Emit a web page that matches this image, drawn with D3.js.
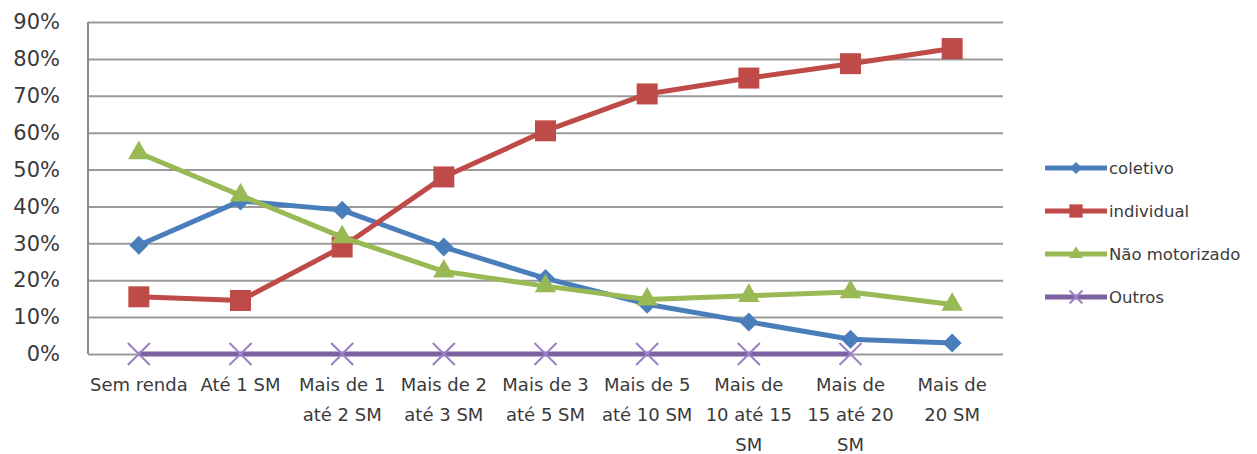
<!DOCTYPE html>
<html>
<head>
<meta charset="utf-8">
<script src="https://cdn.jsdelivr.net/npm/d3@7"></script>
<style>
    body { margin: 0; background: #fff; }
    svg { display: block; }
    svg text { font-family: "DejaVu Sans", sans-serif; }
</style>
</head>
<body>
<div id="chart"></div>
<script>
// Categories (income bands), tick labels split into lines
const categories = [
    ["Sem renda"],
    ["Até 1 SM"],
    ["Mais de 1", "até 2 SM"],
    ["Mais de 2", "até 3 SM"],
    ["Mais de 3", "até 5 SM"],
    ["Mais de 5", "até 10 SM"],
    ["Mais de", "10 até 15", "SM"],
    ["Mais de", "15 até 20", "SM"],
    ["Mais de", "20 SM"]
];

// Series values (share, 0-1)
const coletivo = [0.295, 0.415, 0.39, 0.29, 0.205, 0.135, 0.087, 0.04, 0.03];
const individual = [0.155, 0.145, 0.29, 0.48, 0.605, 0.705, 0.748, 0.787, 0.828];
const naoMotorizado = [0.545, 0.43, 0.317, 0.224, 0.184, 0.148, 0.158, 0.168, 0.134];
const outros = [0, 0, 0, 0, 0, 0, 0, 0, null];

const yTicks = [0, 0.1, 0.2, 0.3, 0.4, 0.5, 0.6, 0.7, 0.8, 0.9];

const width = 1257;
const height = 454;
const margin = { top: 22, right: 254, bottom: 100, left: 88 };

const series = [
    { name: "coletivo", values: coletivo, color: "#4a7ebb", marker: "diamond" },
    { name: "individual", values: individual, color: "#be4b48", marker: "square" },
    { name: "Não motorizado", values: naoMotorizado, color: "#98b954", marker: "triangle" },
    { name: "Outros", values: outros, color: "#7d60a0", marker: "x" }
];

const svg = d3.select("#chart")
    .append("svg")
    .attr("width", width)
    .attr("height", height);

const x = d3.scaleBand()
    .domain(d3.range(categories.length))
    .range([margin.left, width - margin.right])
    .padding(0);

const y = d3.scaleLinear()
    .domain([0, 0.9])
    .range([height - margin.bottom, margin.top]);

// Gridlines + y labels
const yAxis = svg.append("g")
    .attr("transform", `translate(${margin.left},0)`)
    .call(d3.axisLeft(y)
        .tickValues(yTicks)
        .tickFormat(d3.format(".0%"))
        .tickSize(-(width - margin.right - margin.left))
        .tickPadding(28))
    .attr("font-family", null);
yAxis.select(".domain").remove();
yAxis.selectAll(".tick line")
    .attr("stroke", "#9a9a9a")
    .attr("stroke-width", 2);
yAxis.selectAll(".tick text")
    .attr("fill", "#3a3a3a")
    .style("font-size", "21px");

// Left axis line
svg.append("line")
    .attr("x1", margin.left).attr("x2", margin.left)
    .attr("y1", y(0.9)).attr("y2", y(0))
    .attr("stroke", "#8a8a8a")
    .attr("stroke-width", 2);

// X labels
const xAxis = svg.append("g")
    .attr("transform", `translate(0,${y(0)})`)
    .call(d3.axisBottom(x).tickSize(0).tickFormat(""))
    .attr("font-family", null);
xAxis.select(".domain").remove();
xAxis.selectAll(".tick").each(function(d) {
    const t = d3.select(this).append("text")
        .attr("fill", "#3a3a3a")
        .attr("text-anchor", "middle")
        .style("font-size", "18px");
    categories[d].forEach((line, i) => {
        t.append("tspan")
            .attr("x", 0)
            .attr("y", 37 + i * 30)
            .text(line);
    });
});

function markerPath(type, big) {
    const k = big ? 1 : 0.4;
    if (type === "diamond") return d3.symbol(d3.symbolSquare, 180 * k)();
    if (type === "square") return d3.symbol(d3.symbolSquare, 440 * k)();
    if (type === "triangle") return d3.symbol(d3.symbolTriangle, 200 * k)();
    return d3.symbol(d3.symbolTimes, big ? 320 : 110)();
}

const line = d3.line()
    .defined(d => d.v !== null)
    .x(d => x(d.i) + x.bandwidth() / 2)
    .y(d => y(d.v));

series.forEach(s => {
    const pts = s.values.map((v, i) => ({ i, v }));
    const g = svg.append("g");
    g.append("path")
        .datum(pts)
        .attr("fill", "none")
        .attr("stroke", s.color)
        .attr("stroke-width", 5)
        .attr("stroke-linejoin", "round")
        .attr("d", line);
    g.selectAll("path.m")
        .data(pts.filter(d => d.v !== null))
        .enter()
        .append("path")
        .attr("class", "m")
        .attr("transform", d => `translate(${x(d.i) + x.bandwidth() / 2},${y(d.v)})` + (s.marker === "diamond" ? " rotate(45)" : ""))
        .attr("d", markerPath(s.marker, true))
        .attr("fill", s.marker === "x" ? "none" : s.color)
        .attr("stroke", s.marker === "x" ? "#9a80c4" : "none")
        .attr("stroke-width", 2);
});

// Legend
const legend = svg.append("g")
    .attr("transform", "translate(1045,168)");
series.forEach((s, i) => {
    const row = legend.append("g").attr("transform", `translate(0,${i * 43})`);
    row.append("line")
        .attr("x1", 0).attr("x2", 62)
        .attr("stroke", s.color)
        .attr("stroke-width", 5);
    row.append("path")
        .attr("transform", "translate(31,0)" + (s.marker === "diamond" ? " rotate(45)" : ""))
        .attr("d", markerPath(s.marker, false))
        .attr("fill", s.marker === "x" ? "none" : s.color)
        .attr("stroke", s.marker === "x" ? "#9a80c4" : "none")
        .attr("stroke-width", 2);
    row.append("text")
        .attr("x", 64)
        .attr("dy", "0.35em")
        .attr("fill", "#3a3a3a")
        .style("font-size", "16.5px")
        .text(s.name);
});
</script>
</body>
</html>
